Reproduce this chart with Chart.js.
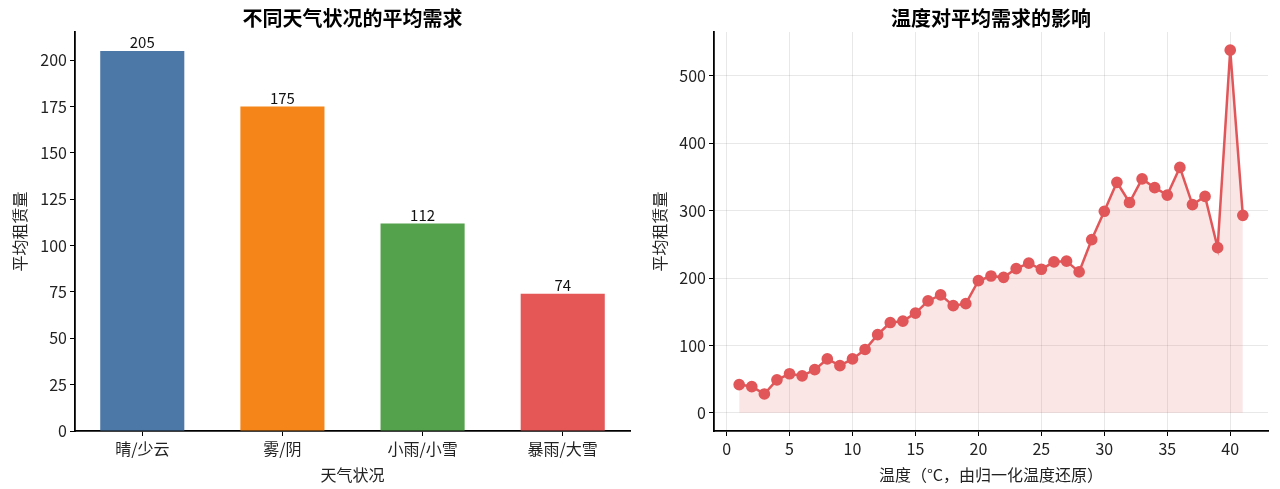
<!DOCTYPE html>
<html>
<head>
<meta charset="utf-8">
<script src="https://cdn.jsdelivr.net/npm/chart.js@4/dist/chart.umd.min.js"></script>
<style>
  body { margin: 0; background: #fff; }
  .wrap { position: absolute; top: 0; width: 640px; height: 489px; }
</style>
</head>
<body>
<div class="wrap" style="left:0"><canvas id="barChart"></canvas></div>
<div class="wrap" style="left:640px"><canvas id="lineChart"></canvas></div>
<script>
const weatherLabels = ["晴/少云", "雾/阴", "小雨/小雪", "暴雨/大雪"];
const weatherDemand = [205, 175, 112, 74];
const weatherColors = ["#4c78a8", "#f58518", "#54a24b", "#e45756"];

const temps = [1, 2, 3, 4, 5, 6, 7, 8, 9, 10, 11, 12, 13, 14, 15, 16, 17, 18, 19, 20,
  21, 22, 23, 24, 25, 26, 27, 28, 29, 30, 31, 32, 33, 34, 35, 36, 37, 38, 39, 40, 41];
const tempDemand = [42, 39, 28, 49, 58, 55, 64, 80, 70, 80, 94, 116, 134, 136, 148, 166, 175, 159, 162, 196,
  203, 201, 214, 222, 213, 224, 225, 209, 257, 299, 342, 312, 347, 334, 323, 364, 309, 321, 245, 538, 293];

const barYTicks = [0, 25, 50, 75, 100, 125, 150, 175, 200];
const tempXTicks = [0, 5, 10, 15, 20, 25, 30, 35, 40];
const demandYTicks = [0, 100, 200, 300, 400, 500];

const FONT = "'Noto Sans CJK SC', 'Noto Sans', sans-serif";
Chart.defaults.font.family = FONT;
Chart.defaults.color = "#222";
Chart.defaults.animation = false;

const fixTicks = (list) => (scale) => {
  scale.ticks = list.map((v) => ({ value: v }));
};

// title centred over the plot area (like matplotlib), not over the canvas
const axesTitle = {
  id: "axesTitle",
  afterDraw(chart, args, opts) {
    const ctx = chart.ctx;
    const area = chart.chartArea;
    ctx.save();
    ctx.font = "bold 20px " + FONT;
    ctx.fillStyle = "#000";
    ctx.textAlign = "center";
    ctx.textBaseline = "middle";
    ctx.fillText(opts.text, (area.left + area.right) / 2, 18);
    ctx.restore();
  }
};

// value labels above bars
const barLabels = {
  id: "barLabels",
  afterDatasetsDraw(chart) {
    const ctx = chart.ctx;
    const meta = chart.getDatasetMeta(0);
    ctx.save();
    ctx.font = "15px " + FONT;
    ctx.fillStyle = "#111";
    ctx.textAlign = "center";
    ctx.textBaseline = "bottom";
    meta.data.forEach((bar, i) => {
      ctx.fillText(weatherDemand[i], bar.x, bar.y - 1);
    });
    ctx.restore();
  }
};

const tickGrid = { tickLength: 5, tickColor: "#000", tickWidth: 1, offset: false };
const axisBorder = { color: "#000", width: 1.8 };
const tickFont = { font: { size: 16 }, color: "#222", padding: 3 };
const axisTitle = (text, pad) => ({ display: true, text: text, font: { size: 16 }, color: "#222", padding: pad });

new Chart(document.getElementById("barChart"), {
  type: "bar",
  data: {
    datasets: [{
      data: weatherDemand.map((v, i) => ({ x: i, y: v })),
      backgroundColor: weatherColors,
      barPercentage: 0.6,
      categoryPercentage: 1.0
    }]
  },
  options: {
    responsive: true,
    maintainAspectRatio: false,
    layout: { padding: { left: 0, right: 10, top: 32, bottom: 0 } },
    plugins: {
      legend: { display: false },
      tooltip: { enabled: false },
      title: { display: false },
      axesTitle: { text: "不同天气状况的平均需求" }
    },
    scales: {
      x: {
        type: "linear",
        offset: false,
        min: -0.48,
        max: 3.48,
        grid: Object.assign({ drawOnChartArea: false }, tickGrid),
        border: axisBorder,
        ticks: Object.assign({ callback: (v) => weatherLabels[v] }, tickFont),
        afterBuildTicks: fixTicks([0, 1, 2, 3]),
        title: axisTitle("天气状况", { top: 0 }),
        afterFit(scale) { scale.height = 58; }
      },
      y: {
        min: 0,
        max: 215.25,
        grid: Object.assign({ drawOnChartArea: false }, tickGrid),
        border: axisBorder,
        ticks: tickFont,
        afterBuildTicks: fixTicks(barYTicks),
        title: axisTitle("平均租赁量", { top: 10, bottom: 4 }),
        afterFit(scale) { scale.width = 75; }
      }
    }
  },
  plugins: [barLabels, axesTitle]
});

new Chart(document.getElementById("lineChart"), {
  type: "line",
  data: {
    datasets: [{
      data: temps.map((t, i) => ({ x: t, y: tempDemand[i] })),
      borderColor: "#e15759",
      backgroundColor: "rgba(228, 87, 86, 0.15)",
      pointBackgroundColor: "#e15759",
      pointBorderColor: "#e15759",
      pointRadius: 4.6,
      borderWidth: 2.5,
      fill: "origin",
      tension: 0
    }]
  },
  options: {
    responsive: true,
    maintainAspectRatio: false,
    layout: { padding: { left: 0, right: 12, top: 32, bottom: 0 } },
    plugins: {
      legend: { display: false },
      tooltip: { enabled: false },
      title: { display: false },
      axesTitle: { text: "温度对平均需求的影响" }
    },
    scales: {
      x: {
        type: "linear",
        min: -1,
        max: 43,
        grid: Object.assign({ color: "rgba(0,0,0,0.09)" }, tickGrid),
        border: axisBorder,
        ticks: tickFont,
        afterBuildTicks: fixTicks(tempXTicks),
        title: axisTitle("温度（°C，由归一化温度还原）", { top: 0 }),
        afterFit(scale) { scale.height = 58; }
      },
      y: {
        min: -26.9,
        max: 564.9,
        grid: Object.assign({ color: "rgba(0,0,0,0.09)" }, tickGrid),
        border: axisBorder,
        ticks: tickFont,
        afterBuildTicks: fixTicks(demandYTicks),
        title: axisTitle("平均租赁量", { top: 10, bottom: 4 }),
        afterFit(scale) { scale.width = 74; }
      }
    }
  },
  plugins: [axesTitle]
});
</script>
</body>
</html>
